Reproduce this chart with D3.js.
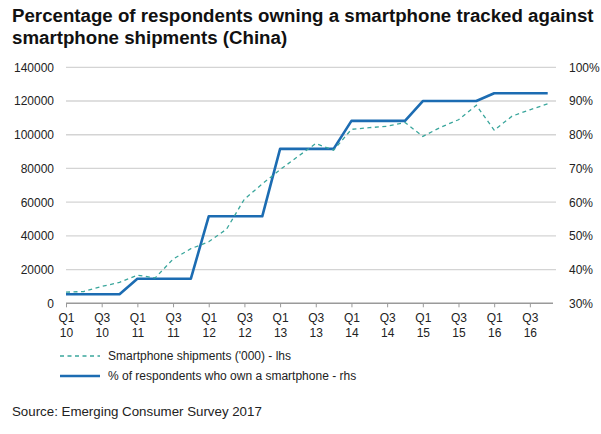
<!DOCTYPE html>
<html>
<head>
<meta charset="utf-8">
<script src="https://cdn.jsdelivr.net/npm/d3@7"></script>
<style>
html,body{margin:0;padding:0;background:#fff;}
svg{display:block;font-family:"Liberation Sans",Arial,Helvetica,sans-serif;}
</style>
</head>
<body>
<svg id="chart" width="601" height="434"></svg>
<script>
// ---- data ----
const quarters = ["Q1 10","Q2 10","Q3 10","Q4 10","Q1 11","Q2 11","Q3 11","Q4 11",
  "Q1 12","Q2 12","Q3 12","Q4 12","Q1 13","Q2 13","Q3 13","Q4 13",
  "Q1 14","Q2 14","Q3 14","Q4 14","Q1 15","Q2 15","Q3 15","Q4 15",
  "Q1 16","Q2 16","Q3 16","Q4 16"];
const shipments = [6600,7000,10000,12400,16700,15100,26200,32400,
  36500,44000,61800,70800,79300,87100,94800,90800,
  103200,104200,105000,107300,99000,104400,108900,117500,
  102700,111000,114800,118300];
const ownership = [32.7,32.7,32.7,32.7,37.3,37.3,37.3,37.3,
  55.8,55.8,55.8,55.8,75.8,75.8,75.8,75.8,
  84.1,84.1,84.1,84.1,90.0,90.0,90.0,90.0,
  92.3,92.3,92.3,92.3];
const leftTicks = [0,20000,40000,60000,80000,100000,120000,140000];
const rightTicks = [30,40,50,60,70,80,90,100];
const labelQuarters = ["Q1 10","Q3 10","Q1 11","Q3 11","Q1 12","Q3 12","Q1 13","Q3 13","Q1 14","Q3 14","Q1 15","Q3 15","Q1 16","Q3 16"];
const seriesNames = ["Smartphone shipments ('000) - lhs","% of respondents who own a smartphone - rhs"];
const titleLines = ["Percentage of respondents owning a smartphone tracked against","smartphone shipments (China)"];
const sourceText = "Source: Emerging Consumer Survey 2017";

// ---- layout ----
const svg = d3.select("#chart");
const plotLeft = 66, plotRight = 556, plotTop = 67.3, plotBottom = 303.3;
const xEnd = 547.7;

const x = d3.scalePoint().domain(quarters).range([plotLeft, xEnd]);
const yL = d3.scaleLinear().domain([0,140000]).range([plotBottom, plotTop]);
const yR = d3.scaleLinear().domain([30,100]).range([plotBottom, plotTop]);

const textCol = "#222";
const solidCol = "#1c6cb2";
const dashCol = "#3aa69c";

// title
svg.append("g").selectAll("text").data(titleLines).join("text")
  .attr("x", 12).attr("y", (d,i)=>22 + i*22)
  .attr("font-size", 18.7).attr("font-weight", "bold").attr("fill", "#111")
  .text(d=>d);

// gridlines
svg.append("g").selectAll("line").data(leftTicks.slice(1)).join("line")
  .attr("x1", plotLeft).attr("x2", plotRight)
  .attr("y1", d=>yL(d)).attr("y2", d=>yL(d))
  .attr("stroke", "#d4d4d4").attr("stroke-width", 1.3);

// left axis labels
const gL = svg.append("g").attr("transform", `translate(${plotLeft},0)`)
  .call(d3.axisLeft(yL).tickValues(leftTicks).tickSize(0).tickPadding(12).tickFormat(d3.format("d")));
gL.select(".domain").remove();
gL.selectAll("text").attr("font-size", 12).attr("fill", textCol).attr("font-family", "Liberation Sans, Arial, sans-serif");

// right axis labels
const gR = svg.append("g").attr("transform", `translate(${plotRight},0)`)
  .call(d3.axisRight(yR).tickValues(rightTicks).tickSize(0).tickPadding(13).tickFormat(d=>d+"%"));
gR.select(".domain").remove();
gR.selectAll("text").attr("font-size", 12).attr("fill", textCol).attr("font-family", "Liberation Sans, Arial, sans-serif");

// x axis
const gX = svg.append("g").attr("transform", `translate(0,${plotBottom})`)
  .call(d3.axisBottom(x).tickValues(labelQuarters).tickSize(4).tickFormat(""));
gX.select(".domain").attr("d", `M${plotLeft},0H${plotRight - 3}`).attr("stroke", "#9a9a9a").attr("stroke-width", 1.5);
gX.selectAll(".tick line").attr("stroke", "#9a9a9a");
const xl = gX.selectAll(".tick").append("text")
  .attr("fill", textCol).attr("font-size", 12).attr("text-anchor", "middle")
  .attr("font-family", "Liberation Sans, Arial, sans-serif");
xl.append("tspan").attr("x", 0).attr("y", 19).text(d=>d.split(" ")[0]);
xl.append("tspan").attr("x", 0).attr("y", 34).text(d=>d.split(" ")[1]);

// lines
const lineL = d3.line().x((d,i)=>x(quarters[i])).y(d=>yL(d));
const lineR = d3.line().x((d,i)=>x(quarters[i])).y(d=>yR(d));
svg.append("path").datum(ownership).attr("d", lineR)
  .attr("fill", "none").attr("stroke", solidCol).attr("stroke-width", 2.6).attr("stroke-linejoin", "round");
svg.append("path").datum(shipments).attr("d", lineL)
  .attr("fill", "none").attr("stroke", dashCol).attr("stroke-width", 1.3).attr("stroke-dasharray", "4,3.5");

// legend
const lg = svg.append("g");
const legY = [356, 376];
lg.append("line").attr("x1", 60).attr("x2", 100).attr("y1", legY[0]).attr("y2", legY[0])
  .attr("stroke", dashCol).attr("stroke-width", 1.3).attr("stroke-dasharray", "4,3.5");
lg.append("line").attr("x1", 60).attr("x2", 100).attr("y1", legY[1]).attr("y2", legY[1])
  .attr("stroke", solidCol).attr("stroke-width", 2.6);
lg.selectAll("text").data(seriesNames).join("text")
  .attr("x", 108).attr("y", (d,i)=>legY[i] + 4)
  .attr("font-size", 12).attr("fill", textCol).text(d=>d);

// source
svg.append("text").attr("x", 12).attr("y", 416).attr("font-size", 13.3).attr("fill", textCol).text(sourceText);
</script>
</body>
</html>
